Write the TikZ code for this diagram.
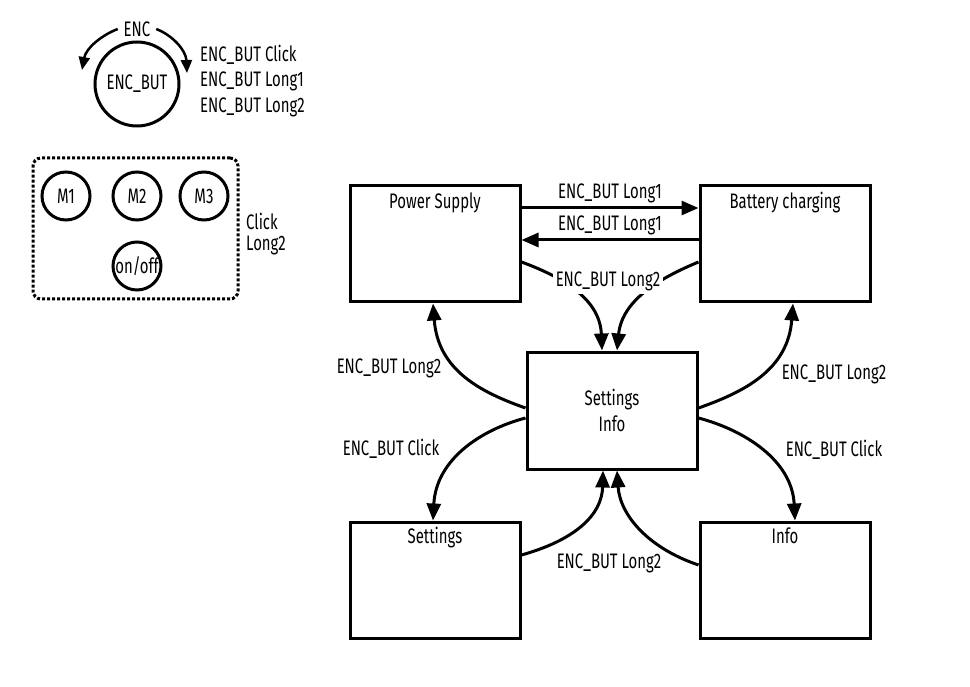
\documentclass[tikz,border=0pt]{standalone}
\usepackage{fontspec}
\setmainfont{Fira Sans}[FakeStretch=0.71]
\usetikzlibrary{arrows.meta,calc}
\tikzset{
  box/.style={draw, line width=3pt, minimum width=170pt, minimum height=116pt, inner sep=0pt},
  boxtitle/.style={anchor=base, inner sep=0pt, yshift=-24pt},
  conn/.style={line width=3pt, -{Triangle[length=17pt,width=14pt]}},
  small/.style={line width=2.5pt, -{Triangle[length=13pt,width=11pt]}},
  btn/.style={draw, circle, line width=3pt, minimum size=48pt, inner sep=0pt},
  lbl/.style={inner sep=1pt},
  lbg/.style={fill=white, inner sep=3pt},
}
\begin{document}
\begin{tikzpicture}[x=1pt,y=-1pt,font=\fontsize{21}{26}\selectfont]
\useasboundingbox (0,0) rectangle (970,687);
% encoder
\node[draw, circle, line width=3pt, minimum size=84pt, inner sep=0pt] (encbut) at (137,84) {ENC\_BUT};
\node[lbl, outer sep=5pt] (enc) at (137,29) {ENC};
\coordinate (encl) at (82,70);
\coordinate (encr) at (187,73);
\draw[small] (enc.west) .. controls (102,35) and (86,48) .. (encl);
\draw[small] (enc.east) .. controls (172,35) and (186,50) .. (encr);
\node[lbl, anchor=west] (ec1) at (199,55) {ENC\_BUT Click};
\node[lbl, anchor=west] (ec2) at (199,81) {ENC\_BUT Long1};
\node[lbl, anchor=west] (ec3) at (199,107) {ENC\_BUT Long2};
% keys
\node[draw, dotted, line width=3pt, rounded corners=8pt, minimum width=205pt, minimum height=141pt] (keys) at (135.5,228.5) {};
\node[btn] (m1) at (66,196) {M1};
\node[btn] (m2) at (137,196) {M2};
\node[btn] (m3) at (204,196) {M3};
\node[btn] (onoff) at (137,266) {on/off};
\node[lbl, anchor=west] (kc) at (245,221) {Click};
\node[lbl, anchor=west] (kl) at (245,246) {Long2};
% state boxes
\node[box] (ps) at (435,244) {};
\node[box] (bc) at (785,244) {};
\node[box, minimum height=117pt] (si) at (612,410.5) {};
\node[box] (st) at (435,580) {};
\node[box] (in) at (785,580) {};
\node[boxtitle] (pst) at (ps.north) {Power Supply};
\node[boxtitle] (bct) at (bc.north) {Battery charging};
\node[boxtitle, yshift=1pt] (stt) at (st.north) {Settings};
\node[boxtitle, yshift=1pt] (int) at (in.north) {Info};
\node[align=center, inner sep=0pt] (sit) at (si.center) {Settings\\Info};
% connectors
\draw[conn] ([yshift=36pt]ps.east) -- ([yshift=36pt]bc.west) node[midway, above=3pt, lbl] (l1) {ENC\_BUT Long1};
\draw[conn] ([yshift=4pt]bc.west) -- ([yshift=4pt]ps.east) node[midway, above=3pt, lbl] (l2) {ENC\_BUT Long1};
\draw[conn] ([yshift=-18pt]ps.east) .. controls (565,278) and (600,300) .. ([xshift=-10pt]si.north);
\draw[conn] ([yshift=-18pt]bc.west) .. controls (660,278) and (622,300) .. ([xshift=5pt]si.north);
\node[lbg] (l3) at (608,281) {ENC\_BUT Long2};
\draw[conn] ([yshift=2.5pt]si.west) .. controls (480,392) and (438,370) .. ([xshift=-2pt]ps.south);
\draw[conn] ([yshift=-7.5pt]si.west) .. controls (480,430) and (436,460) .. ([xshift=-2pt]st.north);
\draw[conn] ([yshift=2.5pt]si.east) .. controls (744,392) and (788,370) .. ([xshift=8pt]bc.south);
\draw[conn] ([yshift=-7.5pt]si.east) .. controls (744,430) and (792,460) .. ([xshift=10pt]in.north);
\draw[conn] ([yshift=25pt]st.east) .. controls (575,540) and (602,515) .. ([xshift=-9pt]si.south);
\draw[conn] ([yshift=15pt]in.west) .. controls (648,548) and (620,515) .. ([xshift=5pt]si.south);
\node[lbl] (l4) at (389,368) {ENC\_BUT Long2};
\node[lbl] (l5) at (391,449) {ENC\_BUT Click};
\node[lbl] (l6) at (834,374) {ENC\_BUT Long2};
\node[lbl] (l7) at (834,450) {ENC\_BUT Click};
\node[lbl] (l8) at (609,563) {ENC\_BUT Long2};
\end{tikzpicture}
\end{document}
